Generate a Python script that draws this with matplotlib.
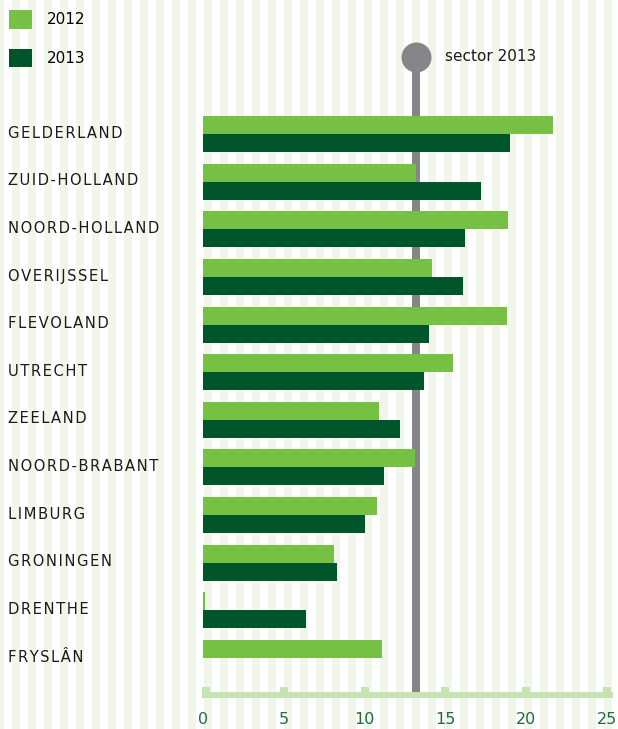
import numpy as np
import matplotlib
matplotlib.use("Agg")
import matplotlib.pyplot as plt
from matplotlib.patches import Patch

# ---- data ----
regions = ["GELDERLAND", "ZUID-HOLLAND", "NOORD-HOLLAND", "OVERIJSSEL", "FLEVOLAND",
           "UTRECHT", "ZEELAND", "NOORD-BRABANT", "LIMBURG", "GRONINGEN", "DRENTHE", "FRYSLÂN"]
values_2012 = [21.7, 13.2, 18.9, 14.2, 18.8, 15.5, 10.9, 13.1, 10.8, 8.1, 0.1, 11.1]
values_2013 = [19.0, 17.2, 16.2, 16.1, 14.0, 13.7, 12.2, 11.2, 10.0, 8.3, 6.4, 0.0]
sector_2013 = 13.2
x_ticks = [0, 5, 10, 15, 20, 25]
series_labels = ["2012", "2013"]

# ---- style ----
C_LIGHT = "#76c043"
C_DARK = "#00552a"
C_GRAY = "#86868a"
C_AXIS = "#c6e4b1"
C_STRIPE = "#f0f6ea"
C_TICKTXT = "#1f6b3a"
FONT = "DejaVu Sans"
plt.rcParams["font.family"] = [FONT]

W, H = 618, 729
fig = plt.figure(figsize=(W / 100, H / 100), dpi=100)
fig.patch.set_facecolor("white")

# background stripes (pixel coordinates)
bg = fig.add_axes([0, 0, 1, 1], zorder=0)
bg.set_xlim(0, W)
bg.set_ylim(H, 0)
bg.axis("off")
for x0 in range(-4, W, 16):
    bg.axvspan(x0, x0 + 8, color=C_STRIPE, lw=0)

# main axes
px_left, px_right = 203, 203 + 25 * 16.15
px_top, px_bottom = 40, 692
pitch = 47.64
y_first = 134
ax = fig.add_axes([px_left / W, (H - px_bottom) / H, (px_right - px_left) / W,
                   (px_bottom - px_top) / H], zorder=1)
ax.patch.set_alpha(0)
for s in ax.spines.values():
    s.set_visible(False)
ax.set_xlim(0, 25)
ylo = (px_bottom - y_first) / pitch
yhi = (px_top - y_first) / pitch
ax.set_ylim(ylo, yhi)

def py(p):
    return (p - y_first) / pitch

idx = np.arange(len(regions))
bh = 18 / pitch
ax.barh(idx - bh / 2, values_2012, height=bh, color=C_LIGHT, lw=0, zorder=3)
ax.barh(idx + bh / 2, values_2013, height=bh, color=C_DARK, lw=0, zorder=3)

# sector line
cy = py(56.5)
ax.plot([sector_2013, sector_2013], [cy, ylo], color=C_GRAY, lw=5.76,
        solid_capstyle="butt", clip_on=False, zorder=2)
ax.scatter([sector_2013], [cy], s=467, color=C_GRAY, lw=0, clip_on=False, zorder=4)
ax.annotate("sector 2013", xy=(sector_2013, cy), xytext=(21, 0),
            textcoords="offset points", va="center", ha="left",
            fontsize=11, color="#1a1a1a", annotation_clip=False)

# bottom axis line with square ticks
xl0 = (202 - px_left) / 16.15
xl1 = (613 - px_left) / 16.15
ax.plot([xl0, xl1], [py(695), py(695)], color=C_AXIS, lw=4.32,
        solid_capstyle="butt", clip_on=False, zorder=2)
hw = 4 / 16.15
for t in x_ticks:
    tc = min(max(t, xl0 + hw), xl1 - hw)
    ax.plot([tc, tc], [py(687), py(694)], color=C_AXIS, lw=5.76,
            solid_capstyle="butt", clip_on=False, zorder=2)

ax.set_xticks(x_ticks)
ax.set_xticklabels([str(t) for t in x_ticks])
ax.tick_params(axis="x", length=0, pad=14.5, labelsize=11.5, labelcolor=C_TICKTXT)

hs = "\u200a"
ax.set_yticks(idx - 0.05)
ax.set_yticklabels([hs.join(r) for r in regions])
ax.tick_params(axis="y", length=0, pad=(px_left - 8) * 0.72, labelsize=10.6,
               labelcolor="#1a1a1a")
for lab in ax.get_yticklabels():
    lab.set_horizontalalignment("left")

# legend
handles = [Patch(facecolor=C_LIGHT, lw=0), Patch(facecolor=C_DARK, lw=0)]
fig.legend(handles, series_labels, loc="upper left",
           bbox_to_anchor=(9 / W, 1 - 10 / H), bbox_transform=fig.transFigure,
           frameon=False, fontsize=11, handlelength=1.5, handleheight=1.5,
           handletextpad=1.0, labelspacing=1.3, borderpad=0, borderaxespad=0)

fig.savefig("out.png", dpi=100, facecolor="white")
